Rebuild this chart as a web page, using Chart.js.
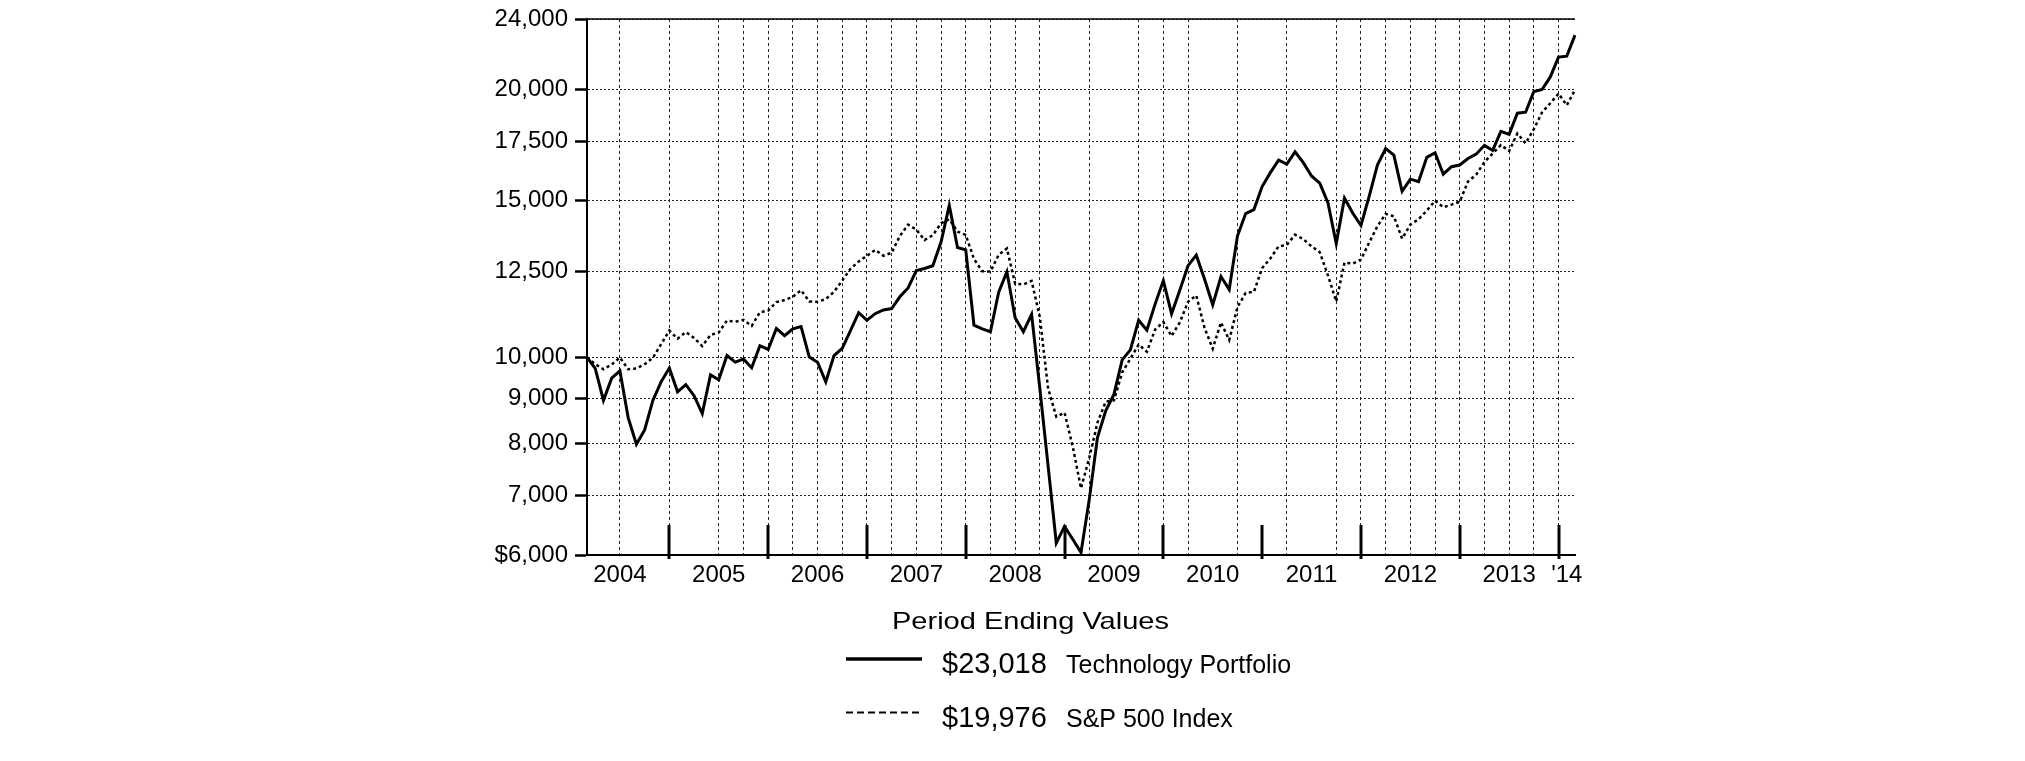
<!DOCTYPE html>
<html>
<head>
<meta charset="utf-8">
<script src="https://cdn.jsdelivr.net/npm/chart.js@4.4.1/dist/chart.umd.min.js"></script>
<style>
html,body{margin:0;padding:0;background:#ffffff;}
canvas{display:block;}
</style>
</head>
<body>
<canvas id="c" width="2025" height="761" style="width:2025px;height:761px"></canvas>
<script>
// ---------- data ----------
const months = [
  '2004-02','2004-03','2004-04','2004-05','2004-06','2004-07','2004-08','2004-09','2004-10','2004-11','2004-12',
  '2005-01','2005-02','2005-03','2005-04','2005-05','2005-06','2005-07','2005-08','2005-09','2005-10','2005-11','2005-12',
  '2006-01','2006-02','2006-03','2006-04','2006-05','2006-06','2006-07','2006-08','2006-09','2006-10','2006-11','2006-12',
  '2007-01','2007-02','2007-03','2007-04','2007-05','2007-06','2007-07','2007-08','2007-09','2007-10','2007-11','2007-12',
  '2008-01','2008-02','2008-03','2008-04','2008-05','2008-06','2008-07','2008-08','2008-09','2008-10','2008-11','2008-12',
  '2009-01','2009-02','2009-03','2009-04','2009-05','2009-06','2009-07','2009-08','2009-09','2009-10','2009-11','2009-12',
  '2010-01','2010-02','2010-03','2010-04','2010-05','2010-06','2010-07','2010-08','2010-09','2010-10','2010-11','2010-12',
  '2011-01','2011-02','2011-03','2011-04','2011-05','2011-06','2011-07','2011-08','2011-09','2011-10','2011-11','2011-12',
  '2012-01','2012-02','2012-03','2012-04','2012-05','2012-06','2012-07','2012-08','2012-09','2012-10','2012-11','2012-12',
  '2013-01','2013-02','2013-03','2013-04','2013-05','2013-06','2013-07','2013-08','2013-09','2013-10','2013-11','2013-12',
  '2014-01','2014-02'
];

const techValues = [
  10000, 9720, 8950, 9480, 9660, 8560, 7990, 8290, 8950, 9390, 9730,
  9150, 9320, 9060, 8650, 9560, 9440, 10050, 9880, 9960, 9740, 10310, 10210,
  10780, 10580, 10770, 10835, 10010, 9880, 9390, 10050, 10240, 10720, 11230, 11010,
  11200, 11310, 11350, 11700, 11970, 12520, 12590, 12680, 13480, 14820, 13290, 13210,
  10870, 10770, 10690, 11840, 12480, 11080, 10690, 11180, 9230, 7560, 6190, 6460,
  6250, 6040, 6920, 8130, 8710, 9090, 9940, 10200, 11010, 10730, 11480, 12200,
  11200, 11900, 12680, 13030, 12250, 11460, 12330, 11920, 13690, 14510, 14660, 15560,
  16130, 16660, 16490, 17020, 16550, 15990, 15700, 14910, 13430, 15100, 14530, 14070,
  15170, 16450, 17170, 16880, 15370, 15860, 15760, 16780, 16980, 16070, 16380, 16450,
  16730, 16920, 17310, 17090, 17950, 17810, 18810, 18860, 19900, 20000, 20660, 21750,
  21800, 23018
];

const spValues = [
  10000, 9830, 9700, 9820, 10000, 9700, 9720, 9830, 9990, 10350, 10720,
  10500, 10680, 10520, 10300, 10600, 10670, 11000, 10970, 11020, 10850, 11240, 11290,
  11540, 11600, 11700, 11900, 11560, 11550, 11630, 11850, 12200, 12580, 12820, 13010,
  13210, 13010, 13110, 13690, 14100, 13920, 13550, 13720, 14150, 14300, 13850, 13730,
  12900, 12500, 12490, 13040, 13260, 12100, 12080, 12190, 11100, 9240, 8580, 8670,
  7940, 7130, 7710, 8450, 8920, 8950, 9620, 9970, 10340, 10150, 10750, 10960,
  10570, 10950, 11550, 11740, 10800, 10230, 10950, 10460, 11390, 11820, 11850, 12600,
  12920, 13330, 13380, 13740, 13580, 13330, 13130, 12360, 11560, 12780, 12750, 12880,
  13460, 14040, 14500, 14410, 13600, 14100, 14300, 14620, 15000, 14750, 14850, 14960,
  15760, 16050, 16580, 16950, 17320, 17060, 17850, 17400, 18050, 18850, 19300, 19790,
  19200, 19976
];

const yTicks      = [6000, 7000, 8000, 9000, 10000, 12500, 15000, 17500, 20000, 24000];
const yTickLabels = ['$6,000','7,000','8,000','9,000','10,000','12,500','15,000','17,500','20,000','24,000'];

const yearLabels      = ['2004','2005','2006','2007','2008','2009','2010','2011','2012','2013',"'14"];
const yearLabelMonths = ['2004-06','2005-06','2006-06','2007-06','2008-06','2009-06','2010-06','2011-06','2012-06','2013-06','2014-01'];

const gridMonths = [
  '2004-06','2004-12','2005-06','2005-09','2005-12','2006-03','2006-06','2006-09','2006-12',
  '2007-03','2007-06','2007-09','2007-12','2008-03','2008-06','2008-09','2009-03','2009-09','2009-12',
  '2010-03','2010-09','2011-03','2011-09','2011-12','2012-03','2012-06','2012-09','2012-12',
  '2013-03','2013-06','2013-09','2013-12'
];
const yearEndMonths = ['2004-12','2005-12','2006-12','2007-12','2008-12','2009-12','2010-12','2011-12','2012-12','2013-12'];

const legendTitle  = 'Period Ending Values';
const legendValues = ['$23,018', '$19,976'];
const seriesNames  = ['Technology Portfolio', 'S&P 500 Index'];

// ---------- helpers ----------
const FONT = '"Liberation Sans", Arial, Helvetica, sans-serif';
const gridIdx  = new Set(gridMonths.map(m => months.indexOf(m)));
const labelIdx = new Map(yearLabelMonths.map((m, k) => [months.indexOf(m), yearLabels[k]]));
const xTickIdx = Array.from(new Set([...gridIdx, ...labelIdx.keys()])).sort((a, b) => a - b);

const framePlugin = {
  id: 'frame',
  beforeDraw(chart) {
    const ctx = chart.ctx;
    ctx.save();
    ctx.fillStyle = '#ffffff';
    ctx.fillRect(0, 0, chart.width, chart.height);
    ctx.restore();
  },
  afterDraw(chart) {
    const ctx = chart.ctx, a = chart.chartArea, xs = chart.scales.x;
    ctx.save();
    ctx.strokeStyle = '#000';
    // top solid border
    ctx.lineWidth = 1.5;
    ctx.beginPath();
    ctx.moveTo(a.left, a.top);
    ctx.lineTo(a.right, a.top);
    ctx.stroke();
    // year separator marks
    ctx.lineWidth = 3;
    yearEndMonths.forEach(m => {
      const x = Math.round(xs.getPixelForValue(months.indexOf(m)));
      ctx.beginPath();
      ctx.moveTo(x, a.bottom - 30);
      ctx.lineTo(x, a.bottom + 4);
      ctx.stroke();
    });
    ctx.restore();
  }
};

const legendPlugin = {
  id: 'periodLegend',
  afterDraw(chart) {
    const ctx = chart.ctx;
    ctx.save();
    ctx.fillStyle = '#000';
    ctx.strokeStyle = '#000';
    ctx.textAlign = 'left';
    ctx.textBaseline = 'alphabetic';
    // title
    ctx.font = '24px ' + FONT;
    const tw = ctx.measureText(legendTitle).width;
    ctx.save();
    ctx.translate(892, 629);
    ctx.scale(277 / tw, 1);
    ctx.fillText(legendTitle, 0, 0);
    ctx.restore();
    // rows
    const rows = [
      { lineY: 659, base: 673, dash: [], width: 3.5 },
      { lineY: 712.5, base: 727, dash: [7, 4], width: 2 }
    ];
    rows.forEach((r, i) => {
      ctx.lineWidth = r.width;
      ctx.setLineDash(r.dash);
      ctx.beginPath();
      ctx.moveTo(846, r.lineY);
      ctx.lineTo(922, r.lineY);
      ctx.stroke();
      ctx.setLineDash([]);
      ctx.font = '29px ' + FONT;
      ctx.fillText(legendValues[i], 942, r.base);
      ctx.font = '25px ' + FONT;
      ctx.fillText(seriesNames[i], 1066, r.base);
    });
    ctx.restore();
  }
};

new Chart(document.getElementById('c'), {
  type: 'line',
  data: {
    labels: months,
    datasets: [
      { label: seriesNames[0], data: techValues, borderColor: '#000', borderWidth: 3,
        pointRadius: 0, fill: false, tension: 0, order: 0 },
      { label: seriesNames[1], data: spValues, borderColor: '#000', borderWidth: 2.5,
        borderDash: [3, 3], pointRadius: 0, fill: false, tension: 0, order: 1 }
    ]
  },
  options: {
    responsive: false,
    devicePixelRatio: 1,
    animation: false,
    layout: { padding: { left: 467, right: 450, top: 14, bottom: 156 } },
    plugins: { legend: { display: false }, tooltip: { enabled: false } },
    scales: {
      x: {
        type: 'category',
        offset: false,
        afterBuildTicks: s => { s.ticks = xTickIdx.map(v => ({ value: v })); },
        afterFit: s => { s.height = 50; },
        ticks: {
          autoSkip: false, maxRotation: 0, minRotation: 0, padding: 8, color: '#000',
          font: { family: FONT, size: 24, lineHeight: 1 },
          callback: v => labelIdx.has(v) ? labelIdx.get(v) : ''
        },
        grid: {
          drawTicks: false, lineWidth: 1,
          color: c => (c.tick && gridIdx.has(c.tick.value)) ? '#222' : 'rgba(0,0,0,0)'
        },
        border: { display: true, color: '#000', width: 2, dash: [3, 3] }
      },
      y: {
        type: 'logarithmic',
        min: 6000, max: 24000,
        afterBuildTicks: s => { s.ticks = yTicks.map(v => ({ value: v })); },
        afterFit: s => { s.width = 120; },
        ticks: {
          padding: 7, color: '#000',
          font: { family: FONT, size: 24, lineHeight: 1 },
          callback: v => { const k = yTicks.indexOf(v); return k >= 0 ? yTickLabels[k] : ''; }
        },
        grid: {
          color: '#222', lineWidth: 1, drawTicks: true, tickLength: 12,
          tickWidth: 2.5, tickColor: '#000', tickBorderDash: []
        },
        border: { display: true, color: '#000', width: 2, dash: [2, 2] }
      }
    }
  },
  plugins: [framePlugin, legendPlugin]
});
</script>
</body>
</html>
